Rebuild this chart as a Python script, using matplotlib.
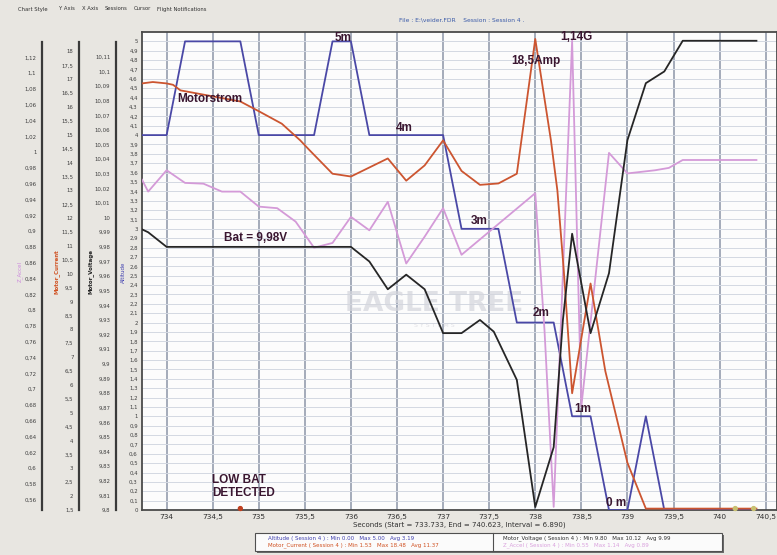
import matplotlib
matplotlib.use("Agg")
import matplotlib.pyplot as plt
import numpy as np
from matplotlib.ticker import FuncFormatter
from matplotlib.patches import Rectangle
from matplotlib.lines import Line2D

# Datos (Session 4)
alt_t = [733.733, 734.0, 734.2, 734.8, 735.0, 735.6, 735.8, 736.0, 736.2, 737.0, 737.2,
         737.6, 737.8, 738.2, 738.4, 738.6, 738.8, 739.0, 739.2, 739.4, 740.4]
alt_v = [4.0, 4.0, 5.0, 5.0, 4.0, 4.0, 5.0, 5.0, 4.0, 4.0, 3.0,
         3.0, 2.0, 2.0, 1.0, 1.0, 0.0, 0.0, 1.0, 0.0, 0.0]

cur_t = [733.733, 733.85, 734.0, 734.07, 734.15, 734.8, 735.0, 735.25, 735.45, 735.55,
         735.8, 736.0, 736.4, 736.6, 736.8, 737.0, 737.2, 737.4, 737.6, 737.8,
         738.0, 738.17, 738.24, 738.31, 738.4, 738.6, 738.76, 739.0, 739.2, 740.4]
cur_v = [16.85, 16.9, 16.85, 16.8, 16.6, 16.2, 15.85, 15.4, 14.8, 14.45,
         13.6, 13.5, 14.15, 13.35, 13.9, 14.8, 13.7, 13.2, 13.25, 13.6,
         18.45, 14.8, 13.0, 10.1, 5.7, 9.65, 6.5, 3.2, 1.55, 1.55]

volt_t = [733.733, 733.8, 734.0, 736.0, 736.2, 736.4, 736.6, 736.8, 737.0, 737.2, 737.4,
          737.55, 737.8, 738.0, 738.2, 738.3, 738.4, 738.6, 738.8, 739.0, 739.2, 739.4,
          739.6, 740.4]
volt_v = [9.992, 9.99, 9.98, 9.98, 9.97, 9.951, 9.961, 9.951, 9.921, 9.921, 9.93,
          9.922, 9.889, 9.802, 9.843, 9.93, 9.989, 9.921, 9.962, 10.053, 10.092, 10.1,
          10.121, 10.121]

acc_t = [733.733, 733.8, 734.0, 734.2, 734.4, 734.6, 734.8, 735.0, 735.2, 735.4, 735.6,
         735.8, 736.0, 736.2, 736.4, 736.6, 736.8, 737.0, 737.2, 738.0, 738.1, 738.2,
         738.4, 738.5, 738.8, 739.0, 739.3, 739.45, 739.6, 740.4]
acc_v = [0.965, 0.95, 0.977, 0.961, 0.96, 0.95, 0.95, 0.931, 0.929, 0.912, 0.879,
         0.885, 0.918, 0.901, 0.937, 0.859, 0.893, 0.929, 0.87, 0.948, 0.775, 0.551,
         1.141, 0.678, 0.999, 0.973, 0.977, 0.98, 0.99, 0.99]

event_t = [734.8, 740.17, 740.37]
event_c = ["#c04020", "#c8c070", "#c8c070"]

x_ticks = [734, 734.5, 735, 735.5, 736, 736.5, 737, 737.5, 738, 738.5, 739, 739.5, 740, 740.5]

notas = [("5m", 735.91, 5.04, "center"), ("Motorstrom", 734.12, 4.38, "left"),
         ("4m", 736.58, 4.08, "center"), ("18,5Amp", 738.01, 4.79, "center"),
         ("1,14G", 738.45, 5.05, "center"), ("Bat = 9,98V", 734.96, 2.9, "center"),
         ("3m", 737.39, 3.08, "center"), ("2m", 738.06, 2.1, "center"),
         ("1m", 738.51, 1.08, "center"), ("0 m", 738.88, 0.07, "center"),
         ("LOW BAT\nDETECTED", 734.49, 0.25, "left")]

W, H = 777, 555
def fx(px):
    return px / W
def fy(py):
    return 1 - py / H

def coma(v, pos=None):
    return f"{v:.2f}".rstrip("0").rstrip(".").replace(".", ",")

fig = plt.figure(figsize=(7.77, 5.55), dpi=100, facecolor="#e8e6e1")
ax = fig.add_axes([fx(142), fy(510), fx(777) - fx(142), fy(32) - fy(510)])
ax.set_facecolor("#fcfcfc")
ax.set_xlim(733.733, 740.623)
ax.set_ylim(0, 5.1)
ax.set_xticks(x_ticks)
ax.xaxis.set_major_formatter(FuncFormatter(coma))
ax.set_yticks(np.round(np.arange(0, 5.01, 0.1), 1))
ax.yaxis.set_major_formatter(FuncFormatter(coma))
ax.tick_params(axis="x", length=0, pad=3, labelsize=5.3, colors="#303030")
ax.tick_params(axis="y", length=0, pad=3, labelsize=3.9, colors="#404040")
ax.grid(axis="y", color="#d3d8e2", lw=0.7)
ax.grid(axis="x", color="#8d96a8", lw=1.1)
for s in ax.spines.values():
    s.set_color("#4a4a4a")
    s.set_linewidth(1.3)
ax.set_xlabel("Seconds (Start = 733.733, End = 740.623, Interval = 6.890)",
              fontsize=5.0, labelpad=1, color="#303030")

# marca de agua
ax.text(736.9, 2.2, "EAGLE TREE", fontsize=19, fontweight="bold", color="#d4d5dc",
        ha="center", va="center", alpha=0.7, zorder=1.8)
ax.text(736.9, 1.97, "S Y S T E M S", fontsize=4.5, color="#d4d5dc", ha="center",
        va="center", alpha=0.7, zorder=1.8)

ax.plot(alt_t, alt_v, color="#4a48a6", lw=1.3, zorder=3)


def eje(lim, pos, ticks):
    tw = ax.twinx()
    tw.set_ylim(*lim)
    for s in ["right", "top", "bottom"]:
        tw.spines[s].set_visible(False)
    sp = tw.spines["left"]
    sp.set_visible(True)
    sp.set_position(("axes", pos))
    sp.set_color("#3a3a3a")
    sp.set_linewidth(1.6)
    sp.set_bounds(lim[0], lim[0] + 0.979 * (lim[1] - lim[0]))
    tw.yaxis.set_ticks_position("left")
    tw.yaxis.set_label_position("left")
    tw.set_yticks(ticks)
    tw.yaxis.set_major_formatter(FuncFormatter(coma))
    tw.tick_params(axis="y", length=0, pad=4, labelsize=3.9, colors="#404040")
    return tw

ax_acc = eje((0.547, 1.152), -0.1575, np.round(np.arange(0.56, 1.121, 0.02), 2))
ax_cur = eje((1.5, 18.7), -0.0992, np.round(np.arange(1.5, 18.01, 0.5), 1))
ax_volt = eje((9.8, 10.127), -0.041, np.round(np.arange(9.8, 10.111, 0.01), 2))

ax_acc.plot(acc_t, acc_v, color="#d49ad8", lw=1.3)
ax_cur.plot(cur_t, cur_v, color="#cc5530", lw=1.3)
ax_volt.plot(volt_t, volt_v, color="#262626", lw=1.3)
ax_volt.scatter(event_t, [9.801] * len(event_t), s=8, c=event_c, zorder=5, clip_on=False)

# titulos de los ejes
fig.text(fx(20), fy(272), "Z_Accel", rotation=90, fontsize=4, color="#cc88dd",
         ha="center", va="center")
fig.text(fx(57), fy(272), "Motor_Current", rotation=90, fontsize=4, color="#d05020",
         ha="center", va="center", fontweight="bold")
fig.text(fx(91), fy(272), "Motor_Voltage", rotation=90, fontsize=4, color="#222222",
         ha="center", va="center", fontweight="bold")
fig.text(fx(123), fy(272), "Altitude", rotation=90, fontsize=4, color="#4040b0",
         ha="center", va="center")

# anotaciones
for txt, t, a, ha in notas:
    fig.text(t, a, txt, transform=ax.transData, fontsize=8.5, fontweight="bold",
             color="#3a1630", ha=ha, va="center", family="Liberation Sans",
             linespacing=1.05)

# menu y titulo
menu = [("Chart Style", 18), ("Y Axis", 59), ("X Axis", 82), ("Sessions", 105),
        ("Cursor", 134), ("Flight Notifications", 157)]
for m, px in menu:
    fig.text(fx(px), fy(9), m, fontsize=3.8, color="#303030", va="center")
fig.text(fx(462), fy(20), "File : E:\\veider.FDR    Session : Session 4 .", fontsize=4.3,
         color="#3a5aa8", ha="center", va="center")

# leyenda inferior
fig.add_artist(Rectangle((fx(257), fy(553)), fx(722) - fx(255), fy(533) - fy(551),
                         transform=fig.transFigure, facecolor="#6a6a6a", edgecolor="none"))
fig.add_artist(Rectangle((fx(255), fy(551)), fx(722) - fx(255), fy(533) - fy(551),
                         transform=fig.transFigure, facecolor="#fbfbfb",
                         edgecolor="#505050", lw=0.8))
fig.add_artist(Line2D([fx(493), fx(493)], [fy(551), fy(533)], transform=fig.transFigure,
                      color="#505050", lw=0.8))
ley = [("Altitude ( Session 4 ) : Min 0.00   Max 5.00   Avg 3.19", 268, 538.5, "#4040b0"),
       ("Motor_Current ( Session 4 ) : Min 1.53   Max 18.48   Avg 11.37", 268, 545.5, "#d05020"),
       ("Motor_Voltage ( Session 4 ) : Min 9.80   Max 10.12   Avg 9.99", 503, 538.5, "#303030"),
       ("Z_Accel ( Session 4 ) : Min 0.55   Max 1.14   Avg 0.89", 503, 545.5, "#d9a0dd")]
for txt, px, py, c in ley:
    fig.text(fx(px), fy(py), txt, fontsize=4.0, color=c, va="center")

fig.savefig("out.png", dpi=100, facecolor=fig.get_facecolor())
